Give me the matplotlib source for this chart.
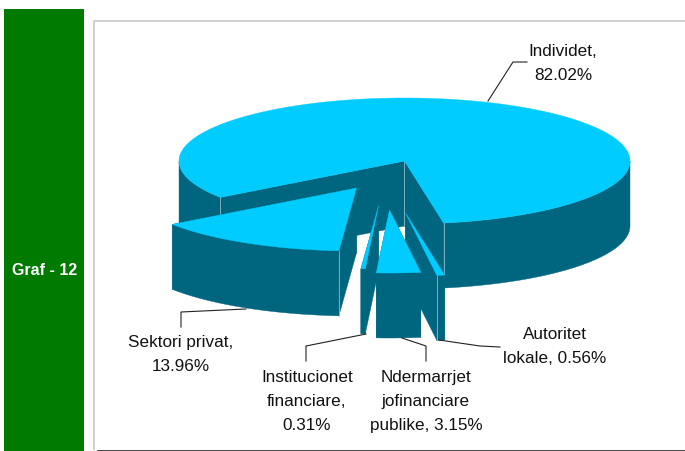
import numpy as np
import matplotlib
matplotlib.use('Agg')
import matplotlib.pyplot as plt
from matplotlib.patches import Polygon, Rectangle

plt.rcParams['font.family'] = ['Liberation Sans', 'DejaVu Sans']

# data
categories = ['Individet', 'Autoritet lokale', 'Ndermarrjet jofinanciare publike',
              'Institucionet financiare', 'Sektori privat']
shares = [82.02, 0.56, 3.15, 0.31, 13.96]
label_texts = ['Individet,\n82.02%', 'Autoritet\nlokale, 0.56%',
               'Ndermarrjet\njofinanciare\npublike, 3.15%',
               'Institucionet\nfinanciare,\n0.31%', 'Sektori privat,\n13.96%']

# pie geometry, in image pixels
cx, cy = 404.5, 162
rx, ry = 225.5, 63
depth = 65
explode = [(0, 0), (1, 52), (-15, 49), (-26, 45), (-48, 27)]
draw_order = [0, 4, 1, 3, 2]
corner_slices = [0, 4, 1]
start_angle = 215.27   # pie runs clockwise from here

top_col = '#00CCFF'
side_col = '#006680'
edge_col = '#8FB8C6'

W, H = 685, 452
fig = plt.figure(figsize=(W / 100, H / 100), dpi=100)
ax = fig.add_axes([0, 0, 1, 1])
ax.set_xlim(0, W)
ax.set_ylim(H, 0)
ax.axis('off')

# green side panel and frame
ax.add_patch(Rectangle((4, 10), 80, 442, color='#007A00', lw=0))
ax.text(44.5, 271, 'Graf - 12', color='white', fontsize=11.5, fontweight='bold',
        ha='center', va='center')
ax.plot([94, 94, W], [451, 21.5, 21.5], color='#CCCCCC', lw=1.3, solid_capstyle='butt')
ax.plot([98, W], [451.5, 451.5], color='#222222', lw=1.2)


def draw_slice(i, a0, a1, z):
    ox = cx + explode[i][0]
    oy = cy + explode[i][1]
    angles = np.linspace(a0, a1, 300)
    x = ox + rx * np.cos(np.radians(angles))
    y = oy - ry * np.sin(np.radians(angles))
    # two cut faces
    for ex, ey in [(x[0], y[0]), (x[-1], y[-1])]:
        ax.add_patch(Polygon([(ox, oy), (ex, ey), (ex, ey + depth), (ox, oy + depth)],
                             color=side_col, lw=0.3, zorder=z))
    # front of the arc, one polygon per run of front facing angles
    front = np.sin(np.radians(angles)) <= 0
    runs = np.split(np.arange(len(angles)), np.where(np.diff(front.astype(int)) != 0)[0] + 1)
    for run in runs:
        if front[run[0]] and len(run) > 1:
            px = np.r_[x[run], x[run][::-1]]
            py = np.r_[y[run], y[run][::-1] + depth]
            ax.add_patch(Polygon(np.column_stack([px, py]), color=side_col, lw=0.3, zorder=z))
    # pale corner lines
    if i in corner_slices:
        corners = []
        if np.sin(np.radians(a0 + 90)) < 0:
            corners.append((x[0], y[0]))
        if np.sin(np.radians(a1 - 90)) < 0:
            corners.append((x[-1], y[-1]))
        if i == 0:
            corners.append((ox, oy))
        for ex, ey in corners:
            ax.plot([ex, ex], [ey, ey + depth], color=edge_col, lw=0.6, zorder=z)
    ax.add_patch(Polygon(np.column_stack([np.r_[ox, x], np.r_[oy, y]]),
                         color=top_col, lw=0.3, zorder=z))


# clockwise angles for every slice
sweeps = np.array(shares) / sum(shares) * 360
ends = start_angle - np.cumsum(sweeps)
starts = ends + sweeps
for z, i in enumerate(draw_order):
    draw_slice(i, starts[i], ends[i], 2 + z)

# leader lines
leaders = [
    [(488, 102), (513, 63), (527, 63)],
    [(439, 341), (480, 347), (500, 348)],
    [(402, 339), (426, 347), (426, 362)],
    [(366, 335), (306, 347), (306, 362)],
    [(246, 310), (181, 313), (181, 328)],
]
for pts in leaders:
    xs, ys = zip(*pts)
    ax.plot(xs, ys, color='#222222', lw=0.8, zorder=10)

# labels
label_pos = [(563, 63.5), (555, 347), (426, 402), (307, 402), (181, 355)]
for txt, (lx, ly) in zip(label_texts, label_pos):
    ax.text(lx, ly, txt, fontsize=12.3, color='#111111', ha='center', va='center',
            linespacing=1.75, zorder=11)

fig.savefig('out.png', dpi=100)
